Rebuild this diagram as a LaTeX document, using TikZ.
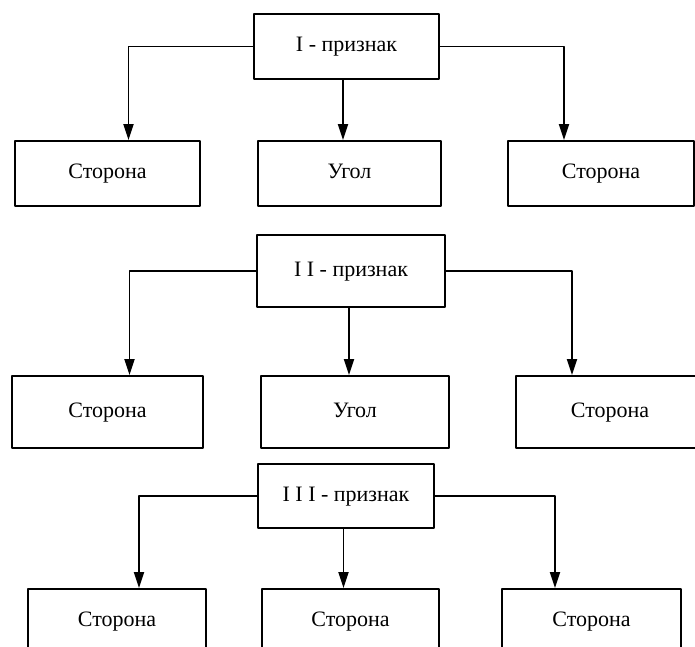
\documentclass[tikz,border=0pt]{standalone}
\usepackage{fontspec}
\setmainfont{Liberation Serif}
\usetikzlibrary{arrows.meta}

\begin{document}
\begin{tikzpicture}[line cap=round,line join=round,>={Triangle[length=16pt,width=10pt]},x=1pt,y=-1pt,
    box/.style={draw,line width=1.8pt,inner sep=0pt,minimum height=65pt,text height=15pt,text depth=5pt,font=\fontsize{22}{26}\selectfont},
    conn/.style={line width=1.8pt}]
                  \clip (0,0) rectangle (695,646);
                  % I - признак
                  \node[box,minimum width=185pt] (t1) at (346.5,46.5) {I - признак};
                  \node[box,minimum width=185pt] (a1) at (107.5,173.5) {Сторона};
                  \node[box,minimum width=183pt] (b1) at (349.5,173.5) {Угол};
                  \node[box,minimum width=186pt] (c1) at (601,173.5) {Сторона};
                  \coordinate (kl1) at (128.5,0);
                  \coordinate (km1) at (343,0);
                  \coordinate (kr1) at (564,0);
                  \draw[conn,->] (t1.west) -| (a1.north -| kl1);
                  \draw[conn,->] (t1.south -| km1) -- (b1.north -| km1);
                  \draw[conn,->] (t1.east) -| (c1.north -| kr1);
                  % II - признак
                  \node[box,minimum width=188pt,minimum height=72pt] (t2) at (351,271) {I I - признак};
                  \node[box,minimum width=191pt,minimum height=72pt] (a2) at (107.5,412) {Сторона};
                  \node[box,minimum width=188pt,minimum height=72pt] (b2) at (355,412) {Угол};
                  \node[box,minimum width=188pt,minimum height=72pt] (c2) at (610,412) {Сторона};
                  \coordinate (kl2) at (129.5,0);
                  \coordinate (km2) at (349,0);
                  \coordinate (kr2) at (572,0);
                  \draw[conn,->] (t2.west) -| (a2.north -| kl2);
                  \draw[conn,->] (t2.south -| km2) -- (b2.north -| km2);
                  \draw[conn,->] (t2.east) -| (c2.north -| kr2);
                  % III - признак
                  \node[box,minimum width=176pt,minimum height=64pt] (t3) at (346,496) {I I I - признак};
                  \node[box,minimum width=178pt] (a3) at (117,621.5) {Сторона};
                  \node[box,minimum width=177pt] (b3) at (350.5,621.5) {Сторона};
                  \node[box,minimum width=179pt] (c3) at (591.5,621.5) {Сторона};
                  \coordinate (kl3) at (139,0);
                  \coordinate (km3) at (343.5,0);
                  \coordinate (kr3) at (555,0);
                  \draw[conn,->] (t3.west) -| (a3.north -| kl3);
                  \draw[conn,->] (t3.south -| km3) -- (b3.north -| km3);
                  \draw[conn,->] (t3.east) -| (c3.north -| kr3);
              \end{tikzpicture}
\end{document}
